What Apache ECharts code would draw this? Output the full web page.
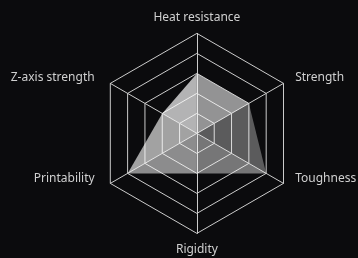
<!DOCTYPE html>
<html>
<head>
<meta charset="utf-8">
<script src="https://cdn.jsdelivr.net/npm/echarts@6/dist/echarts.min.js"></script>
<style>
  html, body { margin: 0; padding: 0; background: #0b0b0d; }
  #radar_chart { width: 358px; height: 258px; }
</style>
</head>
<body>
<div id="radar_chart"></div>
<script>
// indicators in counterclockwise order starting from the top
const indicatorNames = ['Heat resistance', 'Z-axis strength', 'Printability', 'Rigidity', 'Toughness', 'Strength'];
const scores = [3, 2, 4, 2, 4, 3];
const maxScore = 5;
// shade of each facet (between indicator i and i+1)
const facetAlpha = [0.69, 0.62, 0.53, 0.44, 0.33, 0.56];

let myChart = echarts.init(document.getElementById('radar_chart'));

// one triangle per facet: keep two neighbouring scores, others at centre
let facets = facetAlpha.map((a, i) => {
  let vals = scores.map((v, j) => (j == i || j == (i + 1) % scores.length) ? v : 0);
  return {
    value: vals,
    symbol: 'none',
    lineStyle: {width: 0, opacity: 0},
    areaStyle: {color: 'rgba(255,255,255,' + a + ')', opacity: 1}
  };
});

// label nudges (rich style key per indicator)
const labelKeys = ['top', 'ul', 'll', 'bot', 'lr', 'ur'];
const txt = {color: '#d0d0d0', fontSize: 12, fontFamily: 'Noto Sans'};

myChart.setOption({
  backgroundColor: '#0b0b0d',
  radar: {
    center: ['55%', '51.7%'],
    radius: 100,
    splitNumber: 5,
    nameGap: 10,
    indicator: indicatorNames.map(n => ({name: n, max: maxScore})),
    axisName: {
      color: '#d0d0d0',
      fontSize: 12,
      fontFamily: 'Noto Sans',
      formatter: (name) => '{' + labelKeys[indicatorNames.indexOf(name)] + '|' + name + '}',
      rich: {
        top: Object.assign({}, txt),
        bot: Object.assign({}, txt),
        ul: Object.assign({padding: [0, 7, 2, 0]}, txt),
        ll: Object.assign({padding: [0, 7, 20, 0]}, txt),
        ur: Object.assign({padding: [0, 0, 2, 3]}, txt),
        lr: Object.assign({padding: [0, 0, 20, 3]}, txt)
      }
    },
    splitLine: {lineStyle: {color: '#cbcbcb', width: 1}},
    axisLine: {lineStyle: {color: '#cbcbcb', width: 1}},
    splitArea: {show: false}
  },
  series: [{
    type: 'radar',
    silent: true,
    data: facets
  }]
});
</script>
</body>
</html>
